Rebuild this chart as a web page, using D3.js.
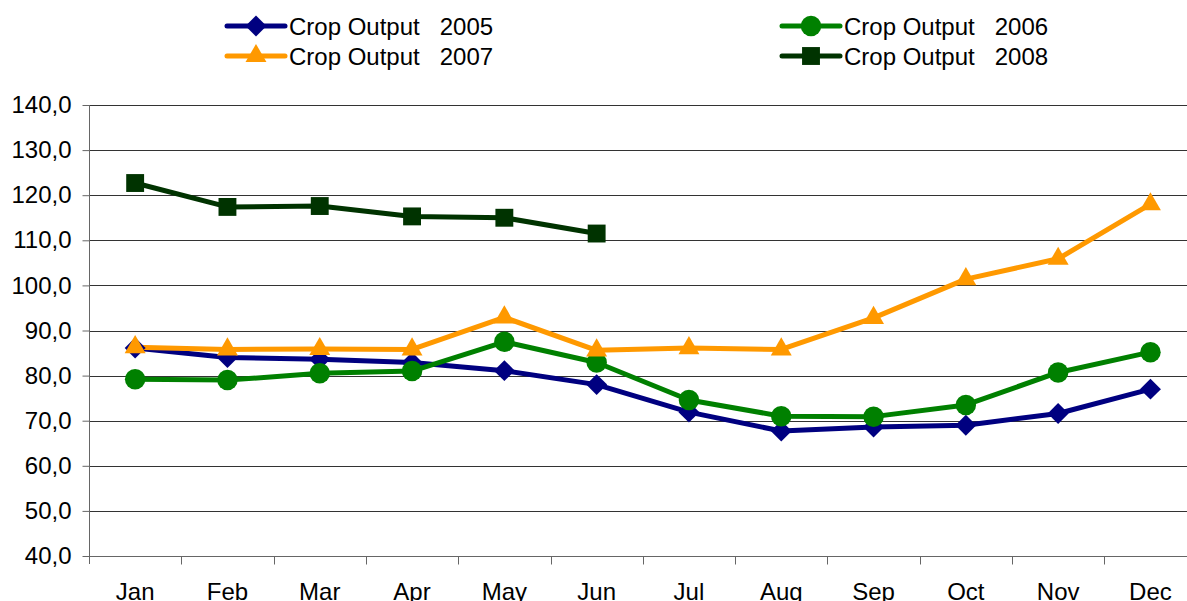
<!DOCTYPE html>
<html>
<head>
<meta charset="utf-8">
<script src="https://cdn.jsdelivr.net/npm/d3@7"></script>
<style>
  body { margin: 0; background: #fff; }
  svg text { font-family: "Liberation Sans", Arial, sans-serif; fill: #000; white-space: pre; }
</style>
</head>
<body>
<svg id="chart" width="1187" height="601"></svg>
<script>
// months on the x axis
const months = ["Jan", "Feb", "Mar", "Apr", "May", "Jun", "Jul", "Aug", "Sep", "Oct", "Nov", "Dec"];

// series values
const output2005 = [86.1, 84.0, 83.6, 82.9, 81.1, 78.0, 71.9, 67.7, 68.6, 69.0, 71.6, 77.0];
const output2006 = [79.2, 79.0, 80.5, 81.0, 87.5, 82.9, 74.6, 71.0, 70.9, 73.5, 80.7, 85.2];
const output2007 = [86.3, 85.8, 85.9, 85.8, 92.9, 85.6, 86.1, 85.8, 92.8, 101.4, 105.9, 118.0];
const output2008 = [122.7, 117.4, 117.6, 115.3, 115.0, 111.5];

const yTicks = [40, 50, 60, 70, 80, 90, 100, 110, 120, 130, 140];

let series = [
    { name: "Crop Output   2005", values: output2005, color: "#000080", marker: "diamond" },
    { name: "Crop Output   2006", values: output2006, color: "#008000", marker: "circle" },
    { name: "Crop Output   2007", values: output2007, color: "#FF9900", marker: "triangle" },
    { name: "Crop Output   2008", values: output2008, color: "#003300", marker: "square" }
];

const svg = d3.select("#chart");
const margin = { left: 89, top: 105, bottom: 556 };

const x = d3.scaleBand()
    .domain(months)
    .range([margin.left, margin.left + 92.3 * 12]);

const y = d3.scaleLinear()
    .domain([40, 140])
    .range([margin.bottom, margin.top]);

// marker shapes
let symbolFor = (type) => {
    if (type === "diamond") return d3.symbol(d3.symbolDiamond2, 280);
    if (type === "circle") return d3.symbol(d3.symbolCircle, 330);
    if (type === "triangle") return d3.symbol(d3.symbolTriangle, 190);
    return d3.symbol(d3.symbolSquare, 320);
};

// horizontal grid lines
svg.append("g")
    .selectAll("line")
    .data(yTicks)
    .join("line")
    .attr("x1", margin.left)
    .attr("x2", 1187)
    .attr("y1", d => Math.round(y(d)) + 0.5)
    .attr("y2", d => Math.round(y(d)) + 0.5)
    .attr("stroke", "#333")
    .attr("stroke-width", 1);

// y axis
const yAxis = svg.append("g")
    .attr("transform", `translate(${margin.left + 0.5},0)`)
    .call(d3.axisLeft(y).tickValues(yTicks).tickSize(7).tickPadding(11)
        .tickFormat(d => d3.format(".1f")(d).replace(".", ",")));
yAxis.select(".domain").attr("stroke", "#666").attr("d", `M0,${margin.top}V${margin.bottom + 8}`);
yAxis.selectAll(".tick line").attr("stroke", "#666");
yAxis.selectAll("text").attr("font-size", 24).attr("font-family", "Liberation Sans, Arial, sans-serif");

// x axis: ticks between categories, labels in the middle
const xAxis = svg.append("g")
    .attr("transform", `translate(0,${Math.round(y(40)) + 0.5})`);
xAxis.append("line")
    .attr("x1", margin.left).attr("x2", 1187)
    .attr("stroke", "#666");
xAxis.selectAll(".tk")
    .data(months.slice(1))
    .join("line")
    .attr("class", "tk")
    .attr("x1", d => Math.round(x(d)) + 0.5)
    .attr("x2", d => Math.round(x(d)) + 0.5)
    .attr("y1", 0).attr("y2", 8)
    .attr("stroke", "#666");
xAxis.selectAll("text")
    .data(months)
    .join("text")
    .attr("x", d => x(d) + x.bandwidth() / 2)
    .attr("y", 43)
    .attr("text-anchor", "middle")
    .attr("font-size", 24)
    .text(d => d);

// lines and markers
const line = d3.line()
    .x((d, i) => x(months[i]) + x.bandwidth() / 2)
    .y(d => y(d));

for (let s of series) {
    svg.append("path")
        .attr("d", line(s.values))
        .attr("fill", "none")
        .attr("stroke", s.color)
        .attr("stroke-width", 5)
        .attr("stroke-linejoin", "round");
}
for (let s of series) {
    svg.append("g")
        .selectAll("path")
        .data(s.values)
        .join("path")
        .attr("transform", (d, i) => `translate(${x(months[i]) + x.bandwidth() / 2},${y(d)})`)
        .attr("d", symbolFor(s.marker))
        .attr("fill", s.color);
}

// legend
const legendPos = [[227, 26], [782, 26], [227, 56], [782, 56]];
series.forEach((s, i) => {
    let g = svg.append("g").attr("transform", `translate(${legendPos[i][0]},${legendPos[i][1]})`);
    g.append("line")
        .attr("x1", 0).attr("x2", 58)
        .attr("stroke", s.color)
        .attr("stroke-width", 5)
        .attr("stroke-linecap", "round");
    g.append("path")
        .attr("transform", "translate(29,0)")
        .attr("d", symbolFor(s.marker))
        .attr("fill", s.color);
    g.append("text")
        .attr("x", 62)
        .attr("y", 9)
        .attr("font-size", 24)
        .text(s.name);
});
</script>
</body>
</html>
